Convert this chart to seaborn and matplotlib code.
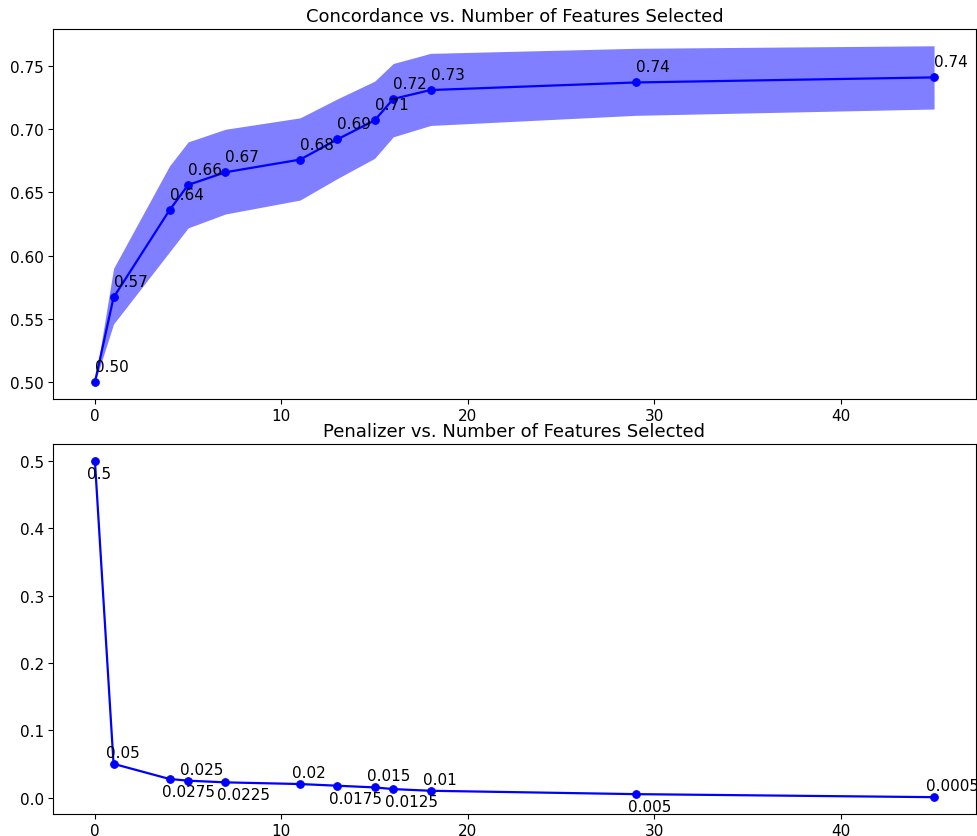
import numpy as np
import matplotlib
matplotlib.use("Agg")
import matplotlib.pyplot as plt
import seaborn as sns

n_features = [0, 1, 4, 5, 7, 11, 13, 15, 16, 18, 29, 45]
concordance = [0.500, 0.567, 0.636, 0.656, 0.666, 0.676, 0.692, 0.707, 0.724, 0.731, 0.737, 0.741]
conc_lower = [0.500, 0.546, 0.603, 0.622, 0.633, 0.644, 0.661, 0.677, 0.694, 0.703, 0.711, 0.716]
conc_upper = [0.500, 0.590, 0.671, 0.690, 0.700, 0.709, 0.724, 0.738, 0.752, 0.760, 0.764, 0.766]
penalizer = [0.5, 0.05, 0.0275, 0.025, 0.0225, 0.02, 0.0175, 0.015, 0.0125, 0.01, 0.005, 0.0005]

fig = plt.figure(figsize=(9.77, 8.37), dpi=100)
ax1 = fig.add_axes([0.0542, 0.5221, 0.9448, 0.4421])
ax2 = fig.add_axes([0.0542, 0.0263, 0.9448, 0.4420])

### concordance with band
ax1.fill_between(n_features, conc_lower, conc_upper, color='blue', alpha=0.5, linewidth=0)
sns.lineplot(x=n_features, y=concordance, marker='o', color='blue', linewidth=1.6,
             markersize=5.5, markeredgecolor='blue', ax=ax1)
for x, y in zip(n_features, concordance):
    ax1.annotate(f"{y:.2f}", (x, y), textcoords='offset pixels', xytext=(0, 11),
                 ha='left', va='baseline', fontsize=11)
ax1.set_title("Concordance vs. Number of Features Selected", fontsize=13)

### penalizer
sns.lineplot(x=n_features, y=penalizer, marker='o', color='blue', linewidth=1.6,
             markersize=5.5, markeredgecolor='blue', ax=ax2)
for i, (x, y) in enumerate(zip(n_features, penalizer)):
    if i % 2 == 0:
        ax2.annotate(str(y), (x, y), textcoords='offset pixels', xytext=(-8, -5),
                     ha='left', va='top', fontsize=11)
    else:
        ax2.annotate(str(y), (x, y), textcoords='offset pixels', xytext=(-8, 7),
                     ha='left', va='baseline', fontsize=11)
ax2.set_title("Penalizer vs. Number of Features Selected", fontsize=13)

for ax in (ax1, ax2):
    ax.tick_params(labelsize=11, pad=3)
    ax.set_xlabel("")
    ax.set_ylabel("")

fig.savefig("out.png", dpi=100)
